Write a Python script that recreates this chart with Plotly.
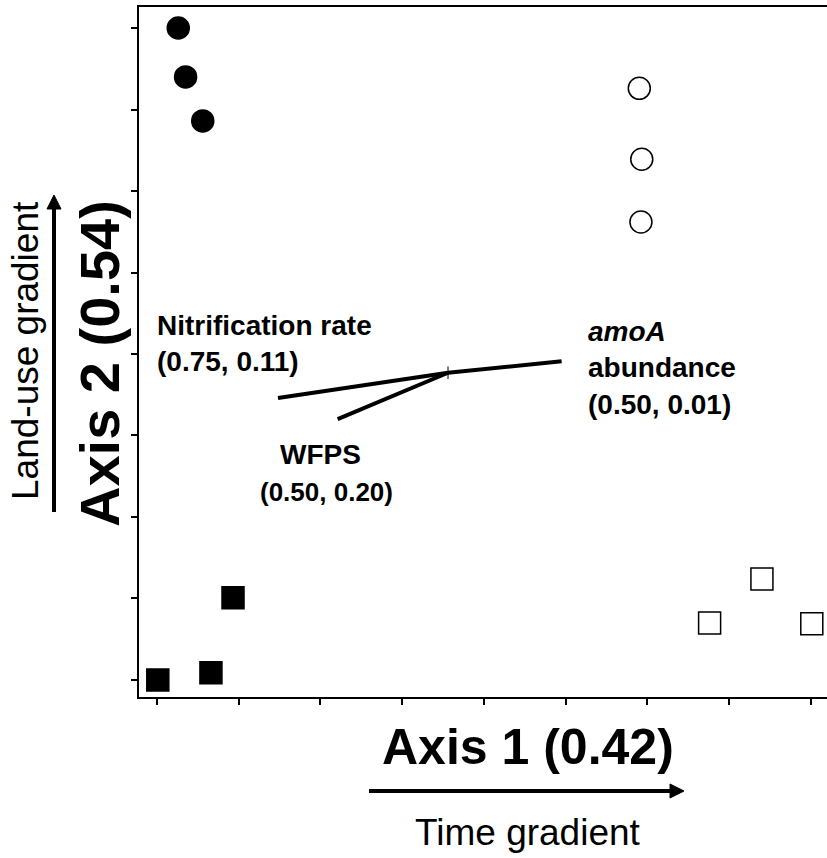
import plotly.graph_objects as go

# ---- data (axis units = tick index) ----
grass_old_x = [0.26, 0.35, 0.56]        # filled circles
grass_old_y = [8.00, 7.40, 6.86]
grass_new_x = [5.90, 5.93, 5.92]        # open circles
grass_new_y = [7.26, 6.39, 5.62]
crop_old_x = [0.01, 0.66, 0.93]         # filled squares
crop_old_y = [0.00, 0.09, 1.01]
crop_new_x = [7.40, 6.76, 8.01]         # open squares
crop_new_y = [1.24, 0.70, 0.69]

vec_origin = (3.56, 3.77)
vec_names = ["amoA abundance", "Nitrification rate", "WFPS"]
vec_end_x = [4.95, 1.48, 2.21]
vec_end_y = [3.91, 3.46, 3.20]

tick_vals = list(range(0, 9))

W, H = 827, 858
L, R, T, B = 139, 0, 7, 161
PW, PH = W - L - R, H - T - B

FONT = "Arial, Liberation Sans, sans-serif"

def px(x):
    return (x - L) / PW

def py(y):
    return (H - B - y) / PH

fig = go.Figure()

mk = dict(size=22, line=dict(color="black", width=1.5))
fig.add_trace(go.Scatter(x=grass_old_x, y=grass_old_y, mode="markers",
                         marker=dict(symbol="circle", color="black", **mk)))
fig.add_trace(go.Scatter(x=grass_new_x, y=grass_new_y, mode="markers",
                         marker=dict(symbol="circle", color="white", **mk)))
fig.add_trace(go.Scatter(x=crop_old_x, y=crop_old_y, mode="markers",
                         marker=dict(symbol="square", color="black", **mk)))
fig.add_trace(go.Scatter(x=crop_new_x, y=crop_new_y, mode="markers",
                         marker=dict(symbol="square", color="white", **mk)))

for ex, ey in zip(vec_end_x, vec_end_y):
    fig.add_trace(go.Scatter(x=[vec_origin[0], ex], y=[vec_origin[1], ey],
                             mode="lines", line=dict(color="black", width=4)))
fig.add_trace(go.Scatter(x=[vec_origin[0]], y=[vec_origin[1]], mode="markers",
                         marker=dict(symbol="line-ns", size=9,
                                     line=dict(color="black", width=1))))

ann = []
lab = dict(showarrow=False, font=dict(family=FONT, size=28, color="black"),
           xref="paper", yref="paper")
ann.append(dict(text="<b>Nitrification rate<br>(0.75, 0.11)</b>", x=px(155), y=py(308),
                xanchor="left", yanchor="top", align="left", **lab))
ann.append(dict(text="<b><i>amoA</i><br>abundance<br>(0.50, 0.01)</b>", x=px(586), y=py(314),
                xanchor="left", yanchor="top", align="left", **lab))
ann.append(dict(text="<b>WFPS</b>", x=px(278), y=py(437),
                xanchor="left", yanchor="top", align="left", **lab))
lab2 = dict(lab)
lab2["font"] = dict(family=FONT, size=26, color="black")
ann.append(dict(text="<b>(0.50, 0.20)</b>", x=px(326), y=py(475),
                xanchor="center", yanchor="top", align="center", **lab2))

ann.append(dict(text="<b>Axis 1 (0.42)</b>", x=px(528), y=py(747), xanchor="center",
                yanchor="middle", showarrow=False, xref="paper", yref="paper",
                font=dict(family=FONT, size=50, color="black")))
ann.append(dict(text="Time gradient", x=px(528), y=py(832), xanchor="center",
                yanchor="middle", showarrow=False, xref="paper", yref="paper",
                font=dict(family=FONT, size=37, color="black")))
ann.append(dict(text="<b>Axis 2 (0.54)</b>", x=px(99), y=py(364), xanchor="center",
                yanchor="middle", textangle=-90, showarrow=False, xref="paper", yref="paper",
                font=dict(family=FONT, size=56, color="black")))
ann.append(dict(text="Land-use gradient", x=px(25), y=py(351), xanchor="center",
                yanchor="middle", textangle=-90, showarrow=False, xref="paper", yref="paper",
                font=dict(family=FONT, size=37, color="black")))

shapes = []
# horizontal arrow
shapes.append(dict(type="line", xref="paper", yref="paper", x0=px(369), x1=px(672),
                   y0=py(791), y1=py(791), line=dict(color="black", width=4)))
shapes.append(dict(type="path", xref="paper", yref="paper",
                   path=f"M {px(670)} {py(784)} L {px(684)} {py(791)} L {px(670)} {py(798)} Z",
                   fillcolor="black", line=dict(color="black", width=1)))
# vertical arrow
shapes.append(dict(type="line", xref="paper", yref="paper", x0=px(54), x1=px(54),
                   y0=py(512), y1=py(206), line=dict(color="black", width=4)))
shapes.append(dict(type="path", xref="paper", yref="paper",
                   path=f"M {px(47)} {py(209)} L {px(54)} {py(195)} L {px(61)} {py(209)} Z",
                   fillcolor="black", line=dict(color="black", width=1)))

axis_common = dict(showgrid=False, zeroline=False, showline=True, linecolor="black",
                   linewidth=2, ticks="outside", ticklen=6, tickwidth=2, tickcolor="black",
                   tickvals=tick_vals, showticklabels=False)

fig.update_layout(
    width=W, height=H,
    margin=dict(l=L, r=R, t=T, b=B, pad=0),
    paper_bgcolor="white", plot_bgcolor="white",
    showlegend=False,
    xaxis=dict(range=[-0.22, 8.196], mirror=True, **axis_common),
    yaxis=dict(range=[-0.209, 8.258], mirror=False, **axis_common),
    annotations=ann, shapes=shapes,
)

fig.write_html("out.html")
